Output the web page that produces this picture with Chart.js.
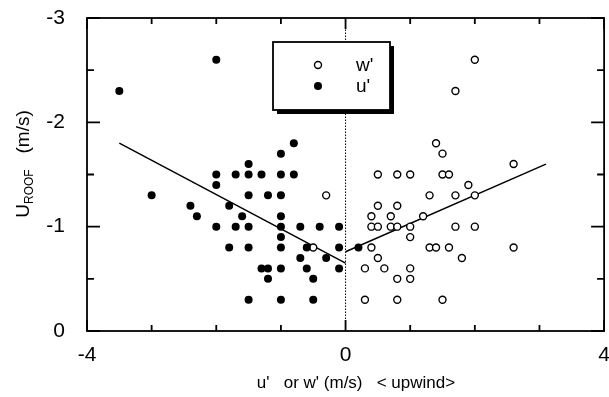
<!DOCTYPE html>
<html>
<head>
<meta charset="utf-8">
<script src="https://cdn.jsdelivr.net/npm/chart.js@4/dist/chart.umd.min.js"></script>
<style>
  html, body { margin: 0; background: #fff; }
  #wrap { width: 609px; height: 397px; }
</style>
</head>
<body>
<div id="wrap"><canvas id="c"></canvas></div>
<script>
// u' (filled) and w' (open) against U_ROOF
const uX = [-3.5, -2.0, -3.0, -0.8, -1.0, -1.5,
  -2.0, -1.7, -1.5, -1.3, -1.0, -0.8,
  -2.0, -1.5, -1.2, -1.0, -2.4, -1.8, -2.3, -1.6, -1.0,
  -2.0, -1.7, -1.5, -1.0, -0.7, -0.4, -0.1, -1.0,
  -1.8, -1.5, -1.0, -0.6, -0.1, 0.2, -0.7, -0.3,
  -1.3, -1.2, -1.0, -0.6, -0.1, -1.2, -0.5, -1.5, -1.0, -0.5]
const uY = [-2.3, -2.6, -1.3, -1.8, -1.7, -1.6,
  -1.5, -1.5, -1.5, -1.5, -1.5, -1.5,
  -1.4, -1.3, -1.3, -1.3, -1.2, -1.2, -1.1, -1.1, -1.1,
  -1.0, -1.0, -1.0, -1.0, -1.0, -1.0, -1.0, -0.9,
  -0.8, -0.8, -0.8, -0.8, -0.8, -0.8, -0.7, -0.7,
  -0.6, -0.6, -0.6, -0.6, -0.6, -0.5, -0.5, -0.3, -0.3, -0.3]

const wX = [2.0, 1.7, 1.4, 1.5, 2.6,
  0.5, 0.8, 1.0, 1.5, 1.6, 1.9,
  -0.3, 1.3, 1.7, 2.0, 0.5, 0.8, 0.4, 0.7, 1.2,
  0.4, 0.5, 0.7, 0.8, 1.0, 1.7, 2.0, 1.0,
  -0.5, 0.4, 1.3, 1.4, 1.6, 2.6, 0.5, 1.8,
  0.3, 0.6, 1.0, 0.8, 1.0, 0.3, 0.8, 1.5]
const wY = [-2.6, -2.3, -1.8, -1.7, -1.6,
  -1.5, -1.5, -1.5, -1.5, -1.5, -1.4,
  -1.3, -1.3, -1.3, -1.3, -1.2, -1.2, -1.1, -1.1, -1.1,
  -1.0, -1.0, -1.0, -1.0, -1.0, -1.0, -1.0, -0.9,
  -0.8, -0.8, -0.8, -0.8, -0.8, -0.8, -0.7, -0.7,
  -0.6, -0.6, -0.6, -0.5, -0.5, -0.3, -0.3, -0.3]

// fitted lines
const uFitX = [-3.5, 0]
const uFitY = [-1.8, -0.65]
const wFitX = [0, 3.1]
const wFitY = [-0.76, -1.6]

// x = 0 reference
const zeroX = [0, 0]
const zeroY = [0, -3]

const xTickLabels = [-4, 0, 4]
const xMinorTicks = [-3, -2, -1, 1, 2, 3]
const yTickLabels = [0, -1, -2, -3]
const yMinorTicks = [-0.5, -1.5, -2.5]

const pts = (xs, ys) => xs.map((x, i) => ({x: x, y: ys[i]}))
const FONT = "'Liberation Sans', Arial, sans-serif"

// frame with inward ticks on all four sides, legend box, titles
const decor = {
  id: "decor",
  afterDraw(chart) {
    const ctx = chart.ctx
    const a = chart.chartArea
    const x = chart.scales.x
    const y = chart.scales.y
    ctx.save()
    ctx.strokeStyle = "#000"
    ctx.lineWidth = 1.8
    ctx.strokeRect(a.left, a.top, a.right - a.left, a.bottom - a.top)

    const xTick = (v, len) => {
      const px = x.getPixelForValue(v)
      ctx.beginPath()
      ctx.moveTo(px, a.bottom)
      ctx.lineTo(px, a.bottom - len)
      ctx.moveTo(px, a.top)
      ctx.lineTo(px, a.top + len)
      ctx.stroke()
    }
    const yTick = (v, len) => {
      const py = y.getPixelForValue(v)
      ctx.beginPath()
      ctx.moveTo(a.left, py)
      ctx.lineTo(a.left + len, py)
      ctx.moveTo(a.right, py)
      ctx.lineTo(a.right - len, py)
      ctx.stroke()
    }
    ctx.lineWidth = 1.8
    xTickLabels.forEach((v) => xTick(v, 11))
    xMinorTicks.forEach((v) => xTick(v, 6))
    yTickLabels.forEach((v) => yTick(v, 13))
    yMinorTicks.forEach((v) => yTick(v, 7))

    // legend
    const bx = 273, by = 42, bw = 117, bh = 68
    ctx.fillStyle = "#000"
    ctx.fillRect(bx + 4, by + 4, bw, bh)
    ctx.fillStyle = "#fff"
    ctx.fillRect(bx, by, bw, bh)
    ctx.lineWidth = 1.8
    ctx.strokeRect(bx, by, bw, bh)
    const items = [chart.data.datasets[1], chart.data.datasets[0]]
    items.forEach((ds, i) => {
      const cy = 65 + i * 21
      ctx.beginPath()
      ctx.arc(318, cy, ds.pointRadius, 0, Math.PI * 2)
      ctx.fillStyle = ds.backgroundColor
      ctx.fill()
      if (ds.borderWidth) {
        ctx.lineWidth = ds.borderWidth
        ctx.stroke()
      }
      ctx.fillStyle = "#000"
      ctx.font = "19px " + FONT
      ctx.textAlign = "left"
      ctx.textBaseline = "middle"
      ctx.fillText(ds.label, 356, cy + 1)
    })
    ctx.restore()

    // y title: U with ROOF subscript
    ctx.save()
    ctx.fillStyle = "#000"
    ctx.translate(24, 164)
    ctx.rotate(-Math.PI / 2)
    ctx.textBaseline = "middle"
    ctx.textAlign = "left"
    const big = "19px " + FONT, small = "12px " + FONT
    ctx.font = big
    const wU = ctx.measureText("U").width
    const wUnit = ctx.measureText("   (m/s)").width
    ctx.font = small
    const wSub = ctx.measureText("ROOF").width
    const sx = -(wU + wSub + wUnit) / 2
    ctx.font = big
    ctx.fillText("U", sx, 0)
    ctx.font = small
    ctx.fillText("ROOF", sx + wU, 6)
    ctx.font = big
    ctx.fillText("   (m/s)", sx + wU + wSub, 0)
    ctx.restore()

    // x title
    ctx.save()
    ctx.fillStyle = "#000"
    ctx.font = "17px " + FONT
    ctx.textAlign = "center"
    ctx.textBaseline = "middle"
    ctx.fillText("u'   or w' (m/s)   < upwind>", 356, 383)
    ctx.restore()
  },
}

new Chart(document.getElementById("c"), {
  type: "scatter",
  data: {
    datasets: [
      {
        label: "u'",
        data: pts(uX, uY),
        pointRadius: 4,
        pointHoverRadius: 4,
        backgroundColor: "#000",
        borderColor: "#000",
        borderWidth: 0,
      },
      {
        label: "w'",
        data: pts(wX, wY),
        pointRadius: 3.5,
        pointHoverRadius: 3.5,
        backgroundColor: "#fff",
        borderColor: "#000",
        borderWidth: 1.4,
      },
      {
        label: "u' fit",
        data: pts(uFitX, uFitY),
        showLine: true,
        pointRadius: 0,
        borderColor: "#000",
        borderWidth: 1.5,
      },
      {
        label: "w' fit",
        data: pts(wFitX, wFitY),
        showLine: true,
        pointRadius: 0,
        borderColor: "#000",
        borderWidth: 1.5,
      },
      {
        label: "zero",
        data: pts(zeroX, zeroY),
        showLine: true,
        pointRadius: 0,
        borderColor: "#000",
        borderWidth: 1,
        borderDash: [1.5, 1.5],
      },
    ],
  },
  options: {
    responsive: true,
    maintainAspectRatio: false,
    animation: false,
    events: [],
    layout: {padding: {left: 0, right: 3, top: 18, bottom: 0}},
    plugins: {legend: {display: false}, tooltip: {enabled: false}},
    scales: {
      x: {
        type: "linear",
        min: -4,
        max: 4,
        grid: {display: false},
        border: {display: false},
        ticks: {
          stepSize: 1,
          autoSkip: false,
          maxRotation: 0,
          padding: 4,
          color: "#000",
          font: {family: FONT, size: 21},
          callback: (v) => (xTickLabels.includes(v) ? String(v) : ""),
        },
        afterFit: (s) => {
          s.height = 66
          s.paddingLeft = 0
          s.paddingRight = 0
        },
      },
      y: {
        type: "linear",
        min: -3,
        max: 0,
        reverse: true,
        grid: {display: false},
        border: {display: false},
        ticks: {
          stepSize: 0.5,
          autoSkip: false,
          padding: 14,
          color: "#000",
          font: {family: FONT, size: 21},
          callback: (v) => (yTickLabels.includes(v) ? String(v) : ""),
        },
        afterFit: (s) => {
          s.width = 87
          s.paddingTop = 0
          s.paddingBottom = 0
        },
      },
    },
  },
  plugins: [decor],
})
</script>
</body>
</html>
